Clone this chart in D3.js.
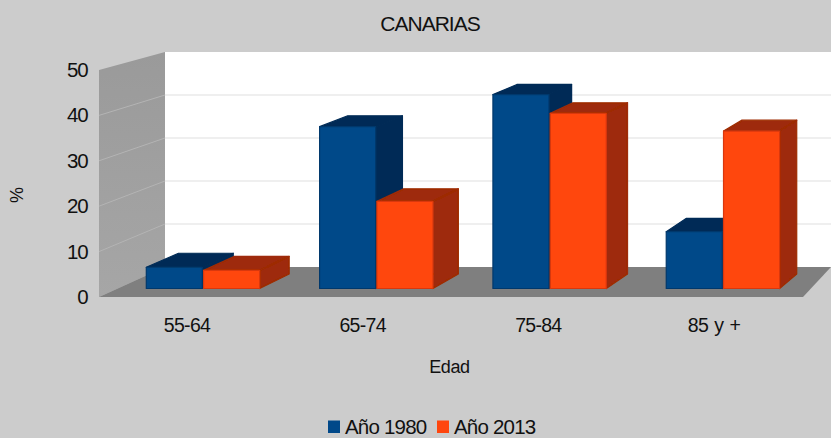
<!DOCTYPE html>
<html><head><meta charset="utf-8">
<script src="https://cdn.jsdelivr.net/npm/d3@7"></script>
<style>html,body{margin:0;padding:0;background:#ccc}svg{display:block}text{font-family:"Liberation Sans",Arial,sans-serif;fill:#111}</style>
</head><body><svg id="c" width="831" height="438"></svg>
<script>
const categories = ["55-64","65-74","75-84","85 y +"];
const seriesNames = ["Año 1980","Año 2013"];
const ano1980 = [5.0,36.6,43.8,13.0];
const ano2013 = [4.3,19.8,39.6,35.6];
const yTicks = [0,10,20,30,40,50];
const frontColors = ["#004889","#ff460e"];
const edgeColors = ["#00386c","#d93808"];
const sideColors = ["#002c57","#9e2b07"];
const topColors = ["#002c57","#9e2b07"];

const svg = d3.select("#c");
const defs = svg.append("defs");
defs.append("filter").attr("id","soft").attr("x","-5%").attr("y","-5%").attr("width","110%").attr("height","110%")
  .append("feGaussianBlur").attr("stdDeviation",0.45);
const wg = defs.append("linearGradient").attr("id","wall").attr("x1",0).attr("x2",0).attr("y1",0).attr("y2",1);
wg.append("stop").attr("offset",0).attr("stop-color","#9a9a9a");
wg.append("stop").attr("offset",1).attr("stop-color","#a6a6a6");

const yBack = d3.scaleLinear().domain([0,50]).range([267,52]);
const yLeft = d3.scaleLinear().domain([0,50]).range([297,70]);
const yBar  = d3.scaleLinear().domain([0,50]).range([289,66.5]);
const xGroup = d3.scaleBand().domain(categories).range([145.7,780.2]).paddingInner(0.339).paddingOuter(0);
const xSub = d3.scaleBand().domain(seriesNames).range([0,xGroup.bandwidth()]);
const xLabel = d3.scalePoint().domain(categories).range([186.5,713.5]);

// room
svg.append("path").attr("fill","url(#wall)")
  .attr("d",d3.line()([[99,yLeft(50)],[165,yBack(50)],[165,yBack(0)],[99,yLeft(0)]])+"Z");
svg.append("rect").attr("x",165).attr("y",yBack(50)).attr("width",666).attr("height",yBack(0)-yBack(50)).attr("fill","#fff");
svg.append("path").attr("fill","#7f7f7f")
  .attr("d",d3.line()([[99,yLeft(0)],[165,yBack(0)],[831,yBack(0)],[803,yLeft(0)]])+"Z");
svg.append("g").selectAll("line").data(yTicks.slice(1,5)).join("line")
  .attr("x1",165).attr("x2",831).attr("y1",yBack).attr("y2",yBack).attr("stroke","#e0e0e0").attr("stroke-width",1.2);
svg.append("g").selectAll("line").data(yTicks.slice(1,5)).join("line")
  .attr("x1",99).attr("x2",165).attr("y1",yLeft).attr("y2",yBack).attr("stroke","#b4b4b4").attr("stroke-width",1);

// depth projection
const depth = p => [p[0] + 29.5 - 0.0238*(p[0]-260), p[1] - (14.5 - (289-p[1])*0.0225)];
const line = d3.line();
const bars = svg.append("g").attr("filter","url(#soft)");
categories.forEach((c,i)=>{
  [ano1980,ano2013].forEach((vals,s)=>{
    const name = seriesNames[s];
    const x0 = xGroup(c)+xSub(name)+0.6, x1 = x0+xSub.bandwidth()-1.2;
    const yt = yBar(vals[i])+0.5, yb = yBar(0)-0.5;
    const g = bars.append("g").attr("stroke-linejoin","round").attr("stroke-width",1.2);
    const A=[x0,yt],B=[x1,yt],C=[x1,yb],D=[x0,yb];
    g.append("path").attr("d",line([A,depth(A),depth(B),B])+"Z").attr("fill",topColors[s]).attr("stroke",topColors[s]);
    g.append("path").attr("d",line([B,depth(B),depth(C),C])+"Z").attr("fill",sideColors[s]).attr("stroke",sideColors[s]);
    g.append("path").attr("d",line([A,B,C,D])+"Z").attr("fill",frontColors[s]).attr("stroke",edgeColors[s]);
  });
});

// axes
const ax = svg.append("g").attr("transform","translate(87.5,0)")
  .call(d3.axisLeft(yLeft).tickValues(yTicks).tickSize(0).tickPadding(0));
ax.select(".domain").remove();
ax.selectAll("text").attr("font-size",20.5).attr("letter-spacing",-1.2).style("font-family",'"Liberation Sans"').attr("fill","#111");
ax.selectAll("g.tick").attr("transform",d=>`translate(0,${yLeft(d)+0.5})`);

const bx = svg.append("g").attr("transform","translate(0,318)")
  .call(d3.axisBottom(xLabel).tickSize(0).tickPadding(0));
bx.select(".domain").remove();
bx.selectAll("text").attr("font-size",19.5).attr("letter-spacing",-0.7).attr("word-spacing",1.5).style("font-family",'"Liberation Sans"').attr("fill","#111");

svg.append("text").attr("x",430).attr("y",31).attr("text-anchor","middle").attr("font-size",21).attr("letter-spacing",-1).text("CANARIAS");
svg.append("text").attr("x",449.5).attr("y",373).attr("text-anchor","middle").attr("font-size",18).attr("letter-spacing",-0.4).text("Edad");
svg.append("text").attr("transform","translate(23,195) rotate(-90)").attr("text-anchor","middle").attr("font-size",18).text("%");

// legend
const legX = [328,437];
seriesNames.forEach((n,i)=>{
  svg.append("rect").attr("x",legX[i]).attr("y",420.5).attr("width",12).attr("height",12.5).attr("fill",frontColors[i]);
  svg.append("text").attr("x",legX[i]+17).attr("y",434).attr("font-size",20.5).attr("letter-spacing",-0.8).text(n);
});
</script></body></html>
